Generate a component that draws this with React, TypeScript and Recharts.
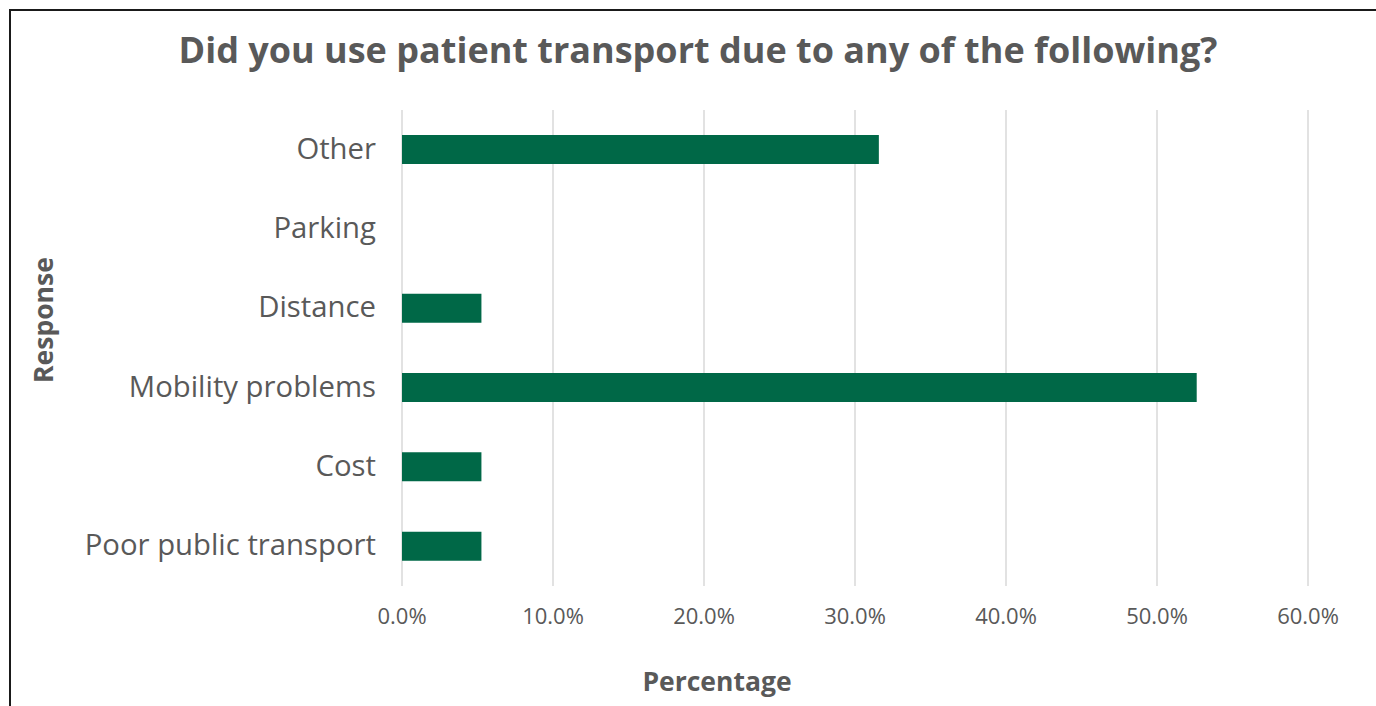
import React from 'react';
import { BarChart, Bar, XAxis, YAxis, CartesianGrid } from 'recharts';

const categories = ['Other', 'Parking', 'Distance', 'Mobility problems', 'Cost', 'Poor public transport'];
const percentages = [31.58, 0, 5.26, 52.63, 5.26, 5.26];
const xTicks = [0, 10, 20, 30, 40, 50, 60];

const data = categories.map((c, i) => ({ name: c, value: percentages[i] }));

const FONT = '"Open Sans", "Noto Sans", sans-serif';
const TEXT = '#595959';

const YTick = (props: any) => {
  const { x, y, payload } = props;
  return (
    <text x={x} y={y - 2} textAnchor="end" dominantBaseline="central" fill={TEXT} fontSize={29.3} fontFamily={FONT}>
      {payload.value}
    </text>
  );
};

const XTick = (props: any) => {
  const { x, y, payload } = props;
  return (
    <text x={x} y={y} textAnchor="middle" dominantBaseline="central" fill={TEXT} fontSize={22} fontFamily={FONT}>
      {`${Number(payload.value).toFixed(1)}%`}
    </text>
  );
};

export default function App() {
  return (
    <div style={{ position: 'fixed', left: 0, top: 0, width: 1376, height: 706, overflow: 'hidden', background: '#fff' }}>
      <div style={{ position: 'absolute', left: 9, top: 9, width: 1500, height: 900, border: '2px solid #1a1a1a', boxSizing: 'border-box' }} />
      <div style={{ position: 'absolute', left: 0, top: 0 }}>
        <BarChart
          width={1376}
          height={706}
          data={data}
          layout="vertical"
          margin={{ top: 110, right: 68, bottom: 0, left: 0 }}
        >
          <CartesianGrid horizontal={false} vertical stroke="#d9d9d9" strokeWidth={1.5} />
          <XAxis
            type="number"
            domain={[0, 60]}
            ticks={xTicks}
            axisLine={false}
            tickLine={false}
            tickSize={0}
            tickMargin={29}
            height={120}
            tick={<XTick />}
            interval={0}
          />
          <YAxis
            type="category"
            dataKey="name"
            width={402}
            axisLine={false}
            tickLine={false}
            tickSize={0}
            tickMargin={26}
            tick={<YTick />}
            interval={0}
          />
          <Bar dataKey="value" fill="#006847" barSize={29} isAnimationActive={false} />
        </BarChart>
      </div>
      <div style={{ position: 'absolute', left: 0, width: 1396, top: 25, textAlign: 'center', fontFamily: FONT, fontWeight: 700, fontSize: 36, color: TEXT, whiteSpace: 'nowrap' }}>
        Did you use patient transport due to any of the following?
      </div>
      <div style={{ position: 'absolute', left: 0, width: 1434, top: 663, textAlign: 'center', fontFamily: FONT, fontWeight: 700, fontSize: 26.5, color: TEXT, whiteSpace: 'nowrap' }}>
        Percentage
      </div>
      <div style={{ position: 'absolute', left: 43, top: 320, width: 0, height: 0 }}>
        <div style={{ position: 'absolute', transform: 'translate(-50%, -50%) rotate(-90deg)', fontFamily: FONT, fontWeight: 700, fontSize: 26.5, color: TEXT, whiteSpace: 'nowrap' }}>
          Response
        </div>
      </div>
    </div>
  );
}
